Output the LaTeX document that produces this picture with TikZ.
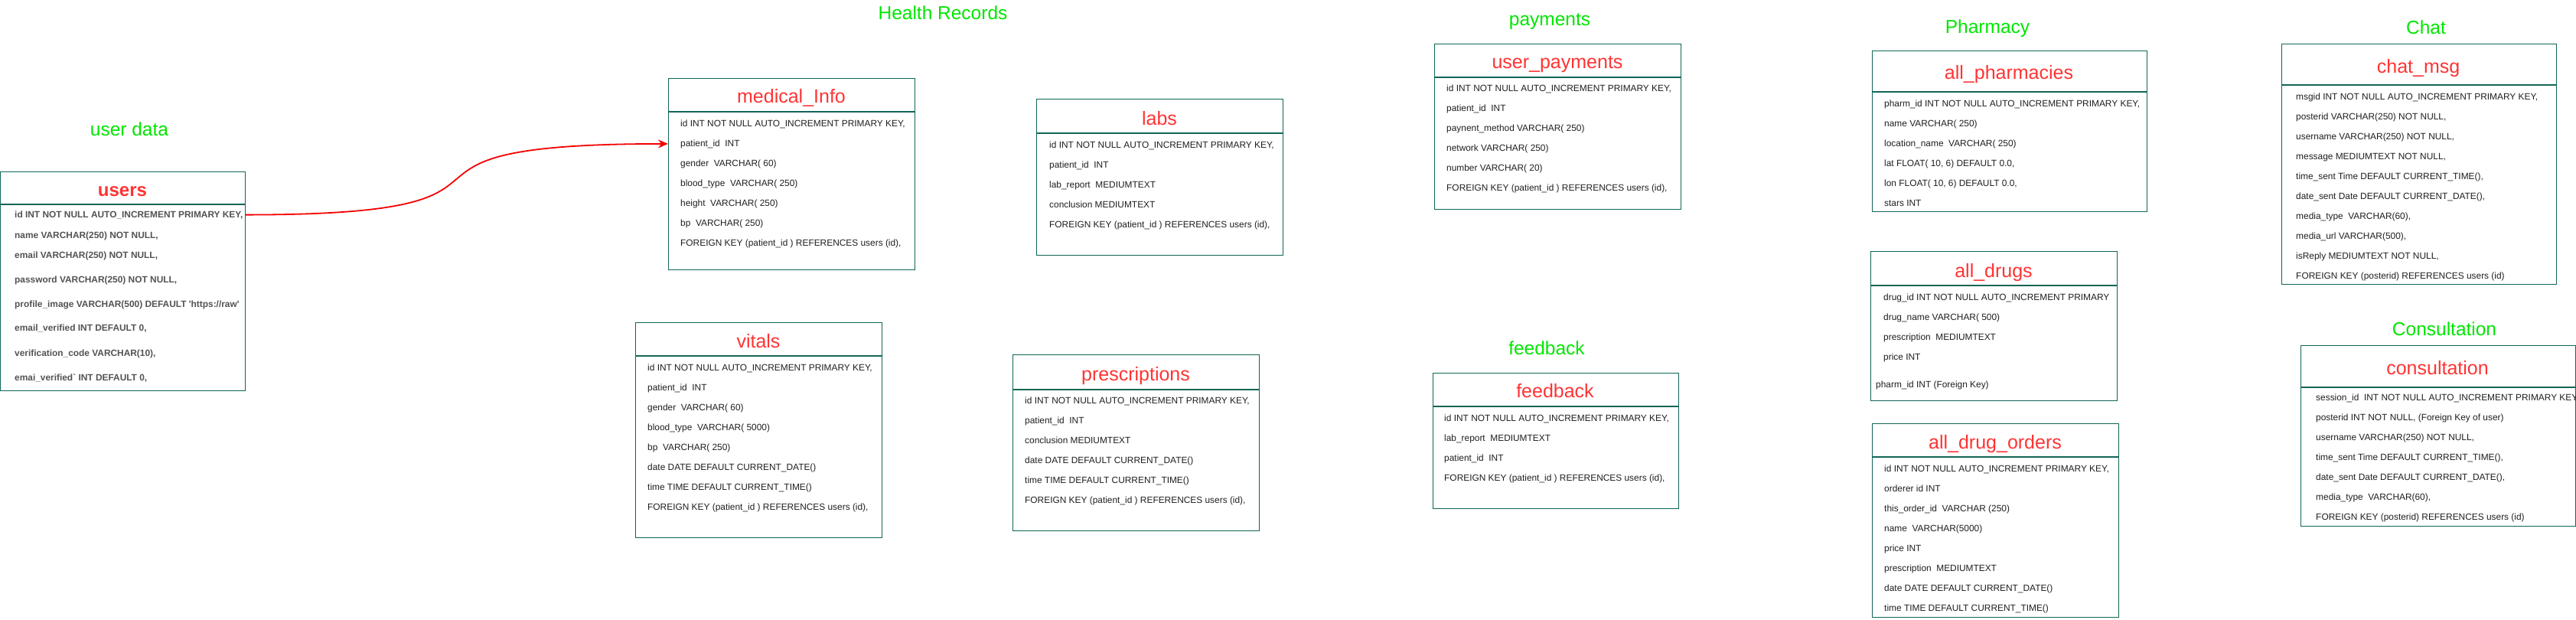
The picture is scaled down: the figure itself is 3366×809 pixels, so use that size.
\documentclass[tikz,border=0pt]{standalone}
\usepackage{fontspec}
\setmainfont{Liberation Sans}
\usepackage{xcolor}
\usetikzlibrary{arrows.meta}

\definecolor{tableteal}{RGB}{16,102,86}
\definecolor{titlered}{RGB}{255,51,51}
\definecolor{labelgreen}{RGB}{0,230,0}
\definecolor{linkred}{RGB}{245,0,0}

\begin{document}
\begin{tikzpicture}[
  x=1pt, y=-1pt,
  every node/.style={inner sep=0pt},
  tablebox/.style={rectangle, draw=tableteal, line width=1.2pt,
                   anchor=north west},
  divider/.style={draw=tableteal, line width=1.2pt},
  tabletitle/.style={anchor=base, text=titlered,
                     font=\fontsize{25}{30}\selectfont},
  grouplabel/.style={anchor=base, text=labelgreen,
                     font=\fontsize{24.5}{29}\selectfont},
  field/.style={anchor=base west, text=black!88,
                font=\fontsize{11.9}{14}\selectfont},
  userfield/.style={field, text=black!68,
                    font=\fontsize{11.9}{14}\selectfont\bfseries},
  fkarr/.style={-{Stealth[length=13pt, width=11pt]}, line width=1.8pt, linkred}
]
  \useasboundingbox (0,0) rectangle (3366,809);

  % ── Group labels ──────────────────────────────────────────────
  \node[grouplabel] (lbl_user)    at (169,177)  {user data};
  \node[grouplabel] (lbl_health)  at (1232,25)  {Health Records};
  \node[grouplabel] (lbl_pay)     at (2025,33)  {payments};
  \node[grouplabel] (lbl_feed)    at (2021,463) {feedback};
  \node[grouplabel] (lbl_pharm)   at (2597,43)  {Pharmacy};
  \node[grouplabel] (lbl_chat)    at (3170,44)  {Chat};
  \node[grouplabel] (lbl_consult) at (3194,438) {Consultation};

  % ── users ─────────────────────────────────────────────────────
  \node[tablebox, minimum width=320pt, minimum height=286pt] (users) at (0,224) {};
  \draw[divider] (users.west |- 0,267) -- (users.east |- 0,267);
  \node[tabletitle, font=\fontsize{24}{29}\selectfont\bfseries] (users_t) at (160,256) {users};
  \foreach \y/\t [count=\i] in {
      284/{id INT NOT NULL AUTO\_INCREMENT PRIMARY KEY,},
      311/{name VARCHAR(250) NOT NULL,},
      337/{email VARCHAR(250) NOT NULL,},
      369/{password VARCHAR(250) NOT NULL,},
      401/{profile\_image VARCHAR(500) DEFAULT \textquotesingle https://raw\textquotesingle},
      432/{email\_verified INT DEFAULT 0,},
      465/{verification\_code VARCHAR(10),},
      497/{emai\_verified\textasciigrave{} INT DEFAULT 0,}}
    \node[userfield] (users-\i) at (19,\y) {\t};

  % ── medical_Info ──────────────────────────────────────────────
  \node[tablebox, minimum width=322pt, minimum height=250pt] (medinfo) at (873,102) {};
  \draw[divider] (medinfo.west |- 0,146) -- (medinfo.east |- 0,146);
  \node[tabletitle] (medinfo_t) at (1034,134) {medical\_Info};
  \foreach \t [count=\i] in {
      {id INT NOT NULL AUTO\_INCREMENT PRIMARY KEY,},
      {patient\_id~ INT},
      {gender~ VARCHAR( 60)},
      {blood\_type~ VARCHAR( 250)},
      {height~ VARCHAR( 250)},
      {bp~ VARCHAR( 250)},
      {FOREIGN KEY (patient\_id ) REFERENCES users (id),}}
    \node[field] (medinfo-\i) at (889,{165+26*(\i-1)}) {\t};

  % ── labs ──────────────────────────────────────────────────────
  \node[tablebox, minimum width=322pt, minimum height=204pt] (labs) at (1354,129) {};
  \draw[divider] (labs.west |- 0,174) -- (labs.east |- 0,174);
  \node[tabletitle] (labs_t) at (1515,163) {labs};
  \foreach \t [count=\i] in {
      {id INT NOT NULL AUTO\_INCREMENT PRIMARY KEY,},
      {patient\_id~ INT},
      {lab\_report~ MEDIUMTEXT},
      {conclusion MEDIUMTEXT},
      {FOREIGN KEY (patient\_id ) REFERENCES users (id),}}
    \node[field] (labs-\i) at (1371,{193+26*(\i-1)}) {\t};

  % ── vitals ────────────────────────────────────────────────────
  \node[tablebox, minimum width=322pt, minimum height=281pt] (vitals) at (830,421) {};
  \draw[divider] (vitals.west |- 0,465) -- (vitals.east |- 0,465);
  \node[tabletitle] (vitals_t) at (991,454) {vitals};
  \foreach \t [count=\i] in {
      {id INT NOT NULL AUTO\_INCREMENT PRIMARY KEY,},
      {patient\_id~ INT},
      {gender~ VARCHAR( 60)},
      {blood\_type~ VARCHAR( 5000)},
      {bp~ VARCHAR( 250)},
      {date DATE DEFAULT CURRENT\_DATE()},
      {time TIME DEFAULT CURRENT\_TIME()},
      {FOREIGN KEY (patient\_id ) REFERENCES users (id),}}
    \node[field] (vitals-\i) at (846,{484+26*(\i-1)}) {\t};

  % ── prescriptions ─────────────────────────────────────────────
  \node[tablebox, minimum width=322pt, minimum height=230pt] (prescr) at (1323,463) {};
  \draw[divider] (prescr.west |- 0,509) -- (prescr.east |- 0,509);
  \node[tabletitle] (prescr_t) at (1484,497) {prescriptions};
  \foreach \t [count=\i] in {
      {id INT NOT NULL AUTO\_INCREMENT PRIMARY KEY,},
      {patient\_id~ INT},
      {conclusion MEDIUMTEXT},
      {date DATE DEFAULT CURRENT\_DATE()},
      {time TIME DEFAULT CURRENT\_TIME()},
      {FOREIGN KEY (patient\_id ) REFERENCES users (id),}}
    \node[field] (prescr-\i) at (1339,{527+26*(\i-1)}) {\t};

  % ── user_payments ─────────────────────────────────────────────
  \node[tablebox, minimum width=322pt, minimum height=216pt] (payments) at (1874,57) {};
  \draw[divider] (payments.west |- 0,101) -- (payments.east |- 0,101);
  \node[tabletitle] (payments_t) at (2035,89) {user\_payments};
  \foreach \t [count=\i] in {
      {id INT NOT NULL AUTO\_INCREMENT PRIMARY KEY,},
      {patient\_id~ INT},
      {paynent\_method VARCHAR( 250)},
      {network VARCHAR( 250)},
      {number VARCHAR( 20)},
      {FOREIGN KEY (patient\_id ) REFERENCES users (id),}}
    \node[field] (payments-\i) at (1890,{119+26*(\i-1)}) {\t};

  % ── feedback ──────────────────────────────────────────────────
  \node[tablebox, minimum width=321pt, minimum height=177pt] (feedback) at (1872,487) {};
  \draw[divider] (feedback.west |- 0,531) -- (feedback.east |- 0,531);
  \node[tabletitle] (feedback_t) at (2032,519) {feedback};
  \foreach \t [count=\i] in {
      {id INT NOT NULL AUTO\_INCREMENT PRIMARY KEY,},
      {lab\_report~ MEDIUMTEXT},
      {patient\_id~ INT},
      {FOREIGN KEY (patient\_id ) REFERENCES users (id),}}
    \node[field] (feedback-\i) at (1887,{550+26*(\i-1)}) {\t};

  % ── all_pharmacies ────────────────────────────────────────────
  \node[tablebox, minimum width=359pt, minimum height=210pt] (pharm) at (2446,66) {};
  \draw[divider] (pharm.west |- 0,120) -- (pharm.east |- 0,120);
  \node[tabletitle] (pharm_t) at (2625,103) {all\_pharmacies};
  \foreach \t [count=\i] in {
      {pharm\_id INT NOT NULL AUTO\_INCREMENT PRIMARY KEY,},
      {name VARCHAR( 250)},
      {location\_name~ VARCHAR( 250)},
      {lat FLOAT( 10, 6) DEFAULT 0.0,},
      {lon FLOAT( 10, 6) DEFAULT 0.0,},
      {stars INT}}
    \node[field] (pharm-\i) at (2462,{139+26*(\i-1)}) {\t};

  % ── all_drugs ─────────────────────────────────────────────────
  \node[tablebox, minimum width=322pt, minimum height=195pt] (drugs) at (2444,328) {};
  \draw[divider] (drugs.west |- 0,373) -- (drugs.east |- 0,373);
  \node[tabletitle] (drugs_t) at (2605,362) {all\_drugs};
  \foreach \t [count=\i] in {
      {drug\_id INT NOT NULL AUTO\_INCREMENT PRIMARY},
      {drug\_name VARCHAR( 500)},
      {prescription~ MEDIUMTEXT},
      {price INT}}
    \node[field] (drugs-\i) at (2461,{392+26*(\i-1)}) {\t};
  \node[field] (drugs-5) at (2451,506) {pharm\_id INT (Foreign Key)};

  % ── all_drug_orders ───────────────────────────────────────────
  \node[tablebox, minimum width=322pt, minimum height=253pt] (orders) at (2446,553) {};
  \draw[divider] (orders.west |- 0,597) -- (orders.east |- 0,597);
  \node[tabletitle] (orders_t) at (2607,586) {all\_drug\_orders};
  \foreach \t [count=\i] in {
      {id INT NOT NULL AUTO\_INCREMENT PRIMARY KEY,},
      {orderer id INT},
      {this\_order\_id~ VARCHAR (250)},
      {name~ VARCHAR(5000)},
      {price INT},
      {prescription~ MEDIUMTEXT},
      {date DATE DEFAULT CURRENT\_DATE()},
      {time TIME DEFAULT CURRENT\_TIME()}}
    \node[field] (orders-\i) at (2462,{616+26*(\i-1)}) {\t};

  % ── chat_msg ──────────────────────────────────────────────────
  \node[tablebox, minimum width=359pt, minimum height=314pt] (chat) at (2981,57) {};
  \draw[divider] (chat.west |- 0,111) -- (chat.east |- 0,111);
  \node[tabletitle] (chat_t) at (3160,95) {chat\_msg};
  \foreach \t [count=\i] in {
      {msgid INT NOT NULL AUTO\_INCREMENT PRIMARY KEY,},
      {posterid VARCHAR(250) NOT NULL,},
      {username VARCHAR(250) NOT NULL,},
      {message MEDIUMTEXT NOT NULL,},
      {time\_sent Time DEFAULT CURRENT\_TIME(),},
      {date\_sent Date DEFAULT CURRENT\_DATE(),},
      {media\_type~ VARCHAR(60),},
      {media\_url VARCHAR(500),},
      {isReply MEDIUMTEXT NOT NULL,},
      {FOREIGN KEY (posterid) REFERENCES users (id)}}
    \node[field] (chat-\i) at (3000,{130+26*(\i-1)}) {\t};

  % ── consultation ──────────────────────────────────────────────
  \node[tablebox, minimum width=359pt, minimum height=236pt] (consult) at (3006,451) {};
  \draw[divider] (consult.west |- 0,506) -- (consult.east |- 0,506);
  \node[tabletitle] (consult_t) at (3185,489) {consultation};
  \foreach \t [count=\i] in {
      {session\_id~ INT NOT NULL AUTO\_INCREMENT PRIMARY KEY,},
      {posterid INT NOT NULL, (Foreign Key of user)},
      {username VARCHAR(250) NOT NULL,},
      {time\_sent Time DEFAULT CURRENT\_TIME(),},
      {date\_sent Date DEFAULT CURRENT\_DATE(),},
      {media\_type~ VARCHAR(60),},
      {FOREIGN KEY (posterid) REFERENCES users (id)}}
    \node[field] (consult-\i) at (3026,{523+26*(\i-1)}) {\t};

  % ── Arrow: users.id -> medical_Info.patient_id ───────────────
  \draw[fkarr] (users.east |- users-1) to[out=0, in=180, looseness=2]
               (medinfo.west |- medinfo-2);

\end{tikzpicture}
\end{document}
